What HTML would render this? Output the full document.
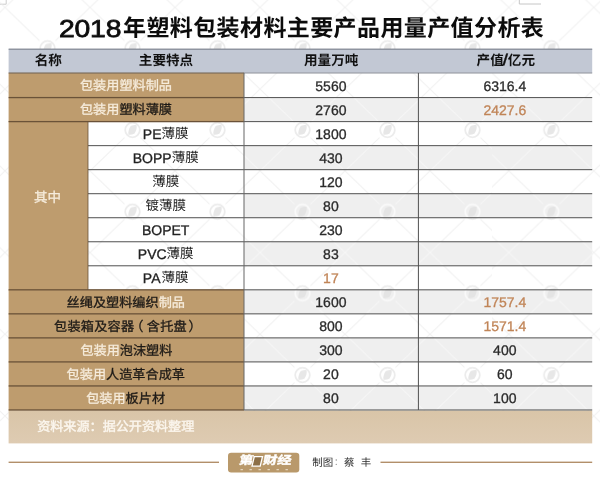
<!DOCTYPE html>
<html lang="zh-CN">
<head>
<meta charset="utf-8">
<title>2018年塑料包装材料主要产品用量产值分析表</title>
<style>
html,body{margin:0;padding:0;background:#fff}
#page{position:relative;width:600px;height:478px;overflow:hidden;background:#fff;font-family:"Liberation Sans",sans-serif}
#page svg{position:absolute;left:0;top:0}
#page span{position:absolute;white-space:nowrap}
#txt{position:absolute;left:0;top:0;width:600px;height:478px;will-change:transform;text-rendering:geometricPrecision}
.l{font-family:"Liberation Sans",sans-serif;-webkit-text-stroke:.3px}
.c{font-family:"Liberation Sans","Noto Sans CJK SC",sans-serif}
</style>
</head>
<body>
<div id="page">
<svg width="600" height="478" viewBox="0 0 600 478">
<defs>
<g id="wm"><path d="M0 0L34.5 33.2M85 0L50.5 33.2M0 81.7L34.5 48.5M85 81.7L50.5 48.5" fill="none" stroke-width="1.1" stroke-opacity=".7"/><circle cx="42.5" cy="40.85" r="7.3" fill="none" stroke-width="1.8"/><path d="M40.7 36.9c2.8-1 4.9-1.1 5.9-.8c.5 2.8-.4 6-2.3 8.6c-2.4 1-4.7 1.2-5.9.8c-.4-2.9.5-6.1 2.3-8.6z" stroke="none"/></g>
<pattern id="wd" x="5" y="7.45" width="85" height="81.7" patternUnits="userSpaceOnUse"><use href="#wm" stroke="#ececec" fill="#e7e7e7"/></pattern>
<pattern id="wl" x="5" y="7.45" width="85" height="81.7" patternUnits="userSpaceOnUse"><use href="#wm" stroke="#f9f9f9" fill="#e4e4e4"/></pattern>
<clipPath id="cr"><rect x="492" y="0" width="108" height="478"/></clipPath>
<linearGradient id="fg" x1="0" y1="0" x2="0" y2="1"><stop offset="0" stop-color="#d9c5a8"/><stop offset="1" stop-color="#decbb2"/></linearGradient></defs>
<path d="M0 4.2H6.2V0" fill="none" stroke="#cdcdcd" stroke-width="1"/>
<path d="M519.3 0V4H541" fill="none" stroke="#c6c6c6" stroke-width="1"/>
<rect width="492" height="443" fill="url(#wd)"/>
<g clip-path="url(#cr)"><rect width="700" height="443" fill="url(#wd)" transform="translate(-6.2 0)"/></g>
<path d="M244 97.58h348.2v24.03h-348.2zM244 145.64h348.2v24.03h-348.2zM244 193.7h348.2v24.03h-348.2zM244 241.76h348.2v24.03h-348.2zM244 289.82h348.2v24.03h-348.2zM244 337.88h348.2v24.03h-348.2zM244 385.94h348.2v24.03h-348.2z" fill="#efefef"/>
<clipPath id="zc"><path d="M244 97.58h348.2v24.03h-348.2zM244 145.64h348.2v24.03h-348.2zM244 193.7h348.2v24.03h-348.2zM244 241.76h348.2v24.03h-348.2zM244 289.82h348.2v24.03h-348.2zM244 337.88h348.2v24.03h-348.2zM244 385.94h348.2v24.03h-348.2z"/></clipPath>
<g clip-path="url(#zc)"><rect width="492" height="443" fill="url(#wl)"/><g clip-path="url(#cr)"><rect width="700" height="478" fill="url(#wl)" transform="translate(-6.2 0)"/></g></g>
<rect x="8.6" y="49" width="583.6" height="23.9" fill="#c2c8d4"/>
<rect x="8.6" y="48.6" width="583.6" height="1.1" fill="#787e8a"/>
<rect x="8.6" y="72.9" width="235.4" height="48.71" fill="#be9c6e"/>
<rect x="8.6" y="121.11" width="79.4" height="169.21" fill="#be9c6e"/>
<rect x="8.6" y="289.82" width="235.4" height="120.65" fill="#be9c6e"/>
<rect x="8.6" y="410.57" width="583.6" height="32.83" fill="url(#fg)"/>
<rect x="8.6" y="72.5" width="235.4" height="1" fill="#6c6155"/>
<rect x="244" y="72.5" width="348.2" height="1" fill="#8b8f98"/>
<rect x="8.6" y="96.93" width="235.4" height="1.3" fill="#6a5238"/>
<rect x="244" y="97.08" width="348.2" height="1" fill="#505050"/>
<rect x="8.6" y="120.96" width="235.4" height="1.3" fill="#6a5238"/>
<rect x="244" y="121.11" width="348.2" height="1" fill="#505050"/>
<rect x="88" y="145.14" width="504.2" height="1" fill="#505050"/>
<rect x="88" y="169.17" width="504.2" height="1" fill="#505050"/>
<rect x="88" y="193.2" width="504.2" height="1" fill="#505050"/>
<rect x="88" y="217.23" width="504.2" height="1" fill="#505050"/>
<rect x="88" y="241.26" width="504.2" height="1" fill="#505050"/>
<rect x="88" y="265.29" width="504.2" height="1" fill="#505050"/>
<rect x="8.6" y="289.17" width="235.4" height="1.3" fill="#6a5238"/>
<rect x="244" y="289.32" width="348.2" height="1" fill="#505050"/>
<rect x="8.6" y="313.2" width="235.4" height="1.3" fill="#6a5238"/>
<rect x="244" y="313.35" width="348.2" height="1" fill="#505050"/>
<rect x="8.6" y="337.23" width="235.4" height="1.3" fill="#6a5238"/>
<rect x="244" y="337.38" width="348.2" height="1" fill="#505050"/>
<rect x="8.6" y="361.26" width="235.4" height="1.3" fill="#6a5238"/>
<rect x="244" y="361.41" width="348.2" height="1" fill="#505050"/>
<rect x="8.6" y="385.29" width="235.4" height="1.3" fill="#6a5238"/>
<rect x="244" y="385.44" width="348.2" height="1" fill="#505050"/>
<rect x="8.6" y="409.32" width="235.4" height="1.3" fill="#6a5238"/>
<rect x="244" y="409.47" width="348.2" height="1" fill="#505050"/>
<rect x="243.5" y="72.9" width="1" height="337.07" fill="#666"/>
<rect x="417.9" y="72.9" width="1" height="337.07" fill="#505050"/>
<rect x="87.5" y="121.61" width="1" height="168.21" fill="#6a5238" opacity=".8"/>
<rect x="8.6" y="461.6" width="210.4" height="1.4" fill="#b28f6a"/>
<rect x="380.5" y="461.6" width="211.7" height="1.4" fill="#b28f6a"/>
<rect x="228" y="452.7" width="71.3" height="19.8" rx="3.2" fill="#b9996b"/>
</svg>
<svg width="600" height="478" viewBox="0 0 600 478">
<path d="M254.3 456.6h8.2l-2.3 9.6h-8.2z" fill="#8c6f47" stroke="#fff" stroke-width="1.3"/><rect x="240.5" y="469.2" width="2.4" height="1" fill="#efe4d3"/><rect x="249.5" y="469.2" width="2.4" height="1" fill="#efe4d3"/><rect x="258.5" y="469.2" width="2.4" height="1" fill="#efe4d3"/><rect x="267.5" y="469.2" width="2.4" height="1" fill="#efe4d3"/><rect x="276.5" y="469.2" width="2.4" height="1" fill="#efe4d3"/><rect x="285.5" y="469.2" width="2.4" height="1" fill="#efe4d3"/>
</svg>
<div id="txt">
<div class="r">
<span class="l" style="left:58.8px;top:15.5px;font-size:24.4px;line-height:27px;color:#0c0c0c;letter-spacing:-0.15px;transform:scaleX(1.16);transform-origin:0 0;-webkit-text-stroke:0.75px;">2018</span>
<span class="c" style="left:123px;top:17.26px;font-size:23px;line-height:23px;letter-spacing:0.4px;font-weight:bold;color:#0c0c0c;">年塑料包装材料主要产品用量产值分析表</span>
</div>
<div class="r">
<span class="c" style="left:34.7px;top:54px;font-size:13.6px;line-height:13.6px;font-weight:bold;color:#111;">名称</span>
<span class="c" style="left:138.8px;top:54px;font-size:13.6px;line-height:13.6px;font-weight:bold;color:#111;">主要特点</span>
<span class="c" style="left:304px;top:54px;font-size:13.6px;line-height:13.6px;font-weight:bold;color:#111;">用量万吨</span>
<span class="c" style="left:476.6px;top:54px;font-size:13.6px;line-height:13.6px;font-weight:bold;color:#111;">产值</span>
<span class="l" style="left:502.9px;top:51.67px;font-size:15.5px;line-height:17px;color:#111;font-weight:bold;transform:skewX(-7deg);">/</span>
<span class="c" style="left:507.8px;top:54px;font-size:13.6px;line-height:13.6px;font-weight:bold;color:#111;">亿元</span>
</div>
<div class="r">
<span class="c" style="left:79.97px;top:78.92px;font-size:13.15px;line-height:13.15px;color:#f6ecdc;-webkit-text-stroke:.3px;">包装用塑料制品</span>
<span class="l" style="left:315.33px;top:77.5px;font-size:14px;line-height:16px;color:#2b2b2b;">5560</span>
<span class="l" style="left:483.39px;top:77.5px;font-size:14px;line-height:16px;color:#2b2b2b;">6316.4</span>
</div>
<div class="r">
<span class="c" style="left:79.97px;top:103.27px;font-size:13.15px;line-height:13.15px;color:#f6ecdc;-webkit-text-stroke:.3px;">包装用</span>
<span class="c" style="left:119.42px;top:103.27px;font-size:13.15px;line-height:13.15px;color:#1d1a17;-webkit-text-stroke:.3px;">塑料薄膜</span>
<span class="l" style="left:315.33px;top:101.86px;font-size:14px;line-height:16px;color:#2b2b2b;">2760</span>
<span class="l" style="left:483.39px;top:101.86px;font-size:14px;line-height:16px;color:#c08457;">2427.6</span>
</div>
<div class="r">
<span class="c" style="left:34.1px;top:190.85px;font-size:13.5px;line-height:13.5px;color:#f6ecdc;-webkit-text-stroke:.3px;">其中</span>
</div>
<div class="r">
<span class="l" style="left:142.86px;top:125.89px;font-size:14px;line-height:16px;color:#222;">PE</span>
<span class="c" style="left:161.54px;top:127.12px;font-size:13.5px;line-height:13.5px;color:#222;">薄膜</span>
<span class="l" style="left:315.33px;top:125.89px;font-size:14px;line-height:16px;color:#2b2b2b;">1800</span>
</div>
<div class="r">
<span class="l" style="left:132.75px;top:149.92px;font-size:14px;line-height:16px;color:#222;">BOPP</span>
<span class="c" style="left:171.65px;top:151.16px;font-size:13.5px;line-height:13.5px;color:#222;">薄膜</span>
<span class="l" style="left:319.22px;top:149.92px;font-size:14px;line-height:16px;color:#2b2b2b;">430</span>
</div>
<div class="r">
<span class="c" style="left:152.2px;top:175.19px;font-size:13.5px;line-height:13.5px;color:#222;">薄膜</span>
<span class="l" style="left:319.22px;top:173.95px;font-size:14px;line-height:16px;color:#2b2b2b;">120</span>
</div>
<div class="r">
<span class="c" style="left:145.45px;top:199.22px;font-size:13.5px;line-height:13.5px;color:#222;">镀薄膜</span>
<span class="l" style="left:323.11px;top:197.98px;font-size:14px;line-height:16px;color:#2b2b2b;">80</span>
</div>
<div class="r">
<span class="l" style="left:141.97px;top:222.01px;font-size:14px;line-height:16px;color:#222;">BOPET</span>
<span class="l" style="left:319.22px;top:222.01px;font-size:14px;line-height:16px;color:#2b2b2b;">230</span>
</div>
<div class="r">
<span class="l" style="left:137.81px;top:246.04px;font-size:14px;line-height:16px;color:#222;">PVC</span>
<span class="c" style="left:166.59px;top:247.28px;font-size:13.5px;line-height:13.5px;color:#222;">薄膜</span>
<span class="l" style="left:323.11px;top:246.04px;font-size:14px;line-height:16px;color:#2b2b2b;">83</span>
</div>
<div class="r">
<span class="l" style="left:142.86px;top:270.07px;font-size:14px;line-height:16px;color:#222;">PA</span>
<span class="c" style="left:161.54px;top:271.31px;font-size:13.5px;line-height:13.5px;color:#222;">薄膜</span>
<span class="l" style="left:323.11px;top:270.07px;font-size:14px;line-height:16px;color:#c08457;">17</span>
</div>
<div class="r">
<span class="c" style="left:66.62px;top:295.51px;font-size:13.15px;line-height:13.15px;color:#1d1a17;-webkit-text-stroke:.3px;">丝绳及塑料编织</span>
<span class="c" style="left:158.68px;top:295.51px;font-size:13.15px;line-height:13.15px;color:#f6ecdc;-webkit-text-stroke:.3px;">制品</span>
<span class="l" style="left:315.33px;top:294.1px;font-size:14px;line-height:16px;color:#2b2b2b;">1600</span>
<span class="l" style="left:483.39px;top:294.1px;font-size:14px;line-height:16px;color:#c08457;">1757.4</span>
</div>
<div class="r">
<span class="c" style="left:54px;top:319.54px;font-size:13.15px;line-height:13.15px;letter-spacing:0.25px;color:#1d1a17;-webkit-text-stroke:.3px;">包装箱及容器</span>
<span class="c" style="left:130.2px;top:319.54px;font-size:13.15px;line-height:13.15px;color:#1d1a17;-webkit-text-stroke:.3px;">（</span>
<span class="c" style="left:146.8px;top:319.54px;font-size:13.15px;line-height:13.15px;letter-spacing:0.25px;color:#1d1a17;-webkit-text-stroke:.3px;">含托盘</span>
<span class="c" style="left:188.6px;top:319.54px;font-size:13.15px;line-height:13.15px;color:#1d1a17;-webkit-text-stroke:.3px;">）</span>
<span class="l" style="left:319.22px;top:318.13px;font-size:14px;line-height:16px;color:#2b2b2b;">800</span>
<span class="l" style="left:483.39px;top:318.13px;font-size:14px;line-height:16px;color:#c08457;">1571.4</span>
</div>
<div class="r">
<span class="c" style="left:80.38px;top:343.57px;font-size:13.15px;line-height:13.15px;color:#f6ecdc;-webkit-text-stroke:.3px;">包装用</span>
<span class="c" style="left:119.83px;top:343.57px;font-size:13.15px;line-height:13.15px;color:#1d1a17;-webkit-text-stroke:.3px;">泡沫塑料</span>
<span class="l" style="left:319.22px;top:342.16px;font-size:14px;line-height:16px;color:#2b2b2b;">300</span>
<span class="l" style="left:493.12px;top:342.16px;font-size:14px;line-height:16px;color:#2b2b2b;">400</span>
</div>
<div class="r">
<span class="c" style="left:66.62px;top:367.6px;font-size:13.15px;line-height:13.15px;color:#f6ecdc;-webkit-text-stroke:.3px;">包装用</span>
<span class="c" style="left:106.08px;top:367.6px;font-size:13.15px;line-height:13.15px;color:#1d1a17;-webkit-text-stroke:.3px;">人造革合成革</span>
<span class="l" style="left:323.11px;top:366.19px;font-size:14px;line-height:16px;color:#2b2b2b;">20</span>
<span class="l" style="left:497.01px;top:366.19px;font-size:14px;line-height:16px;color:#2b2b2b;">60</span>
</div>
<div class="r">
<span class="c" style="left:86.15px;top:391.63px;font-size:13.15px;line-height:13.15px;color:#f6ecdc;-webkit-text-stroke:.3px;">包装用</span>
<span class="c" style="left:125.6px;top:391.63px;font-size:13.15px;line-height:13.15px;color:#1d1a17;-webkit-text-stroke:.3px;">板片材</span>
<span class="l" style="left:323.11px;top:390.22px;font-size:14px;line-height:16px;color:#2b2b2b;">80</span>
<span class="l" style="left:493.12px;top:390.22px;font-size:14px;line-height:16px;color:#2b2b2b;">100</span>
</div>
<div class="r">
<span class="c" style="left:37.2px;top:419.65px;font-size:13.1px;line-height:13.1px;color:#fbf6ee;-webkit-text-stroke:.4px;">资料来源：据公开资料整理</span>
<span class="c" style="left:312.2px;top:457.65px;font-size:10.5px;line-height:10.5px;color:#2e2e2e;">制图</span>
<span class="c" style="left:334px;top:458.4px;font-size:9px;line-height:9px;color:#8a8a8a;">：</span>
<span class="c" style="left:343.9px;top:457.65px;font-size:10.5px;line-height:10.5px;color:#2e2e2e;">蔡</span>
<span class="c" style="left:360.8px;top:457.65px;font-size:10.5px;line-height:10.5px;color:#2e2e2e;">丰</span>
</div>
<div class="r">
<span class="c" style="left:238.2px;top:456.2px;font-size:11.2px;line-height:11.2px;font-weight:bold;color:#fff;-webkit-text-stroke:.4px #fff;transform:scaleX(1.27) skewX(-8deg);transform-origin:0 100%;">第</span>
<span class="c" style="left:261.6px;top:456.2px;font-size:11.2px;line-height:11.2px;font-weight:bold;color:#fff;-webkit-text-stroke:.4px #fff;transform:scaleX(1.27) skewX(-8deg);transform-origin:0 100%;">财经</span>
</div>
</div>
</div>
</body>
</html>
